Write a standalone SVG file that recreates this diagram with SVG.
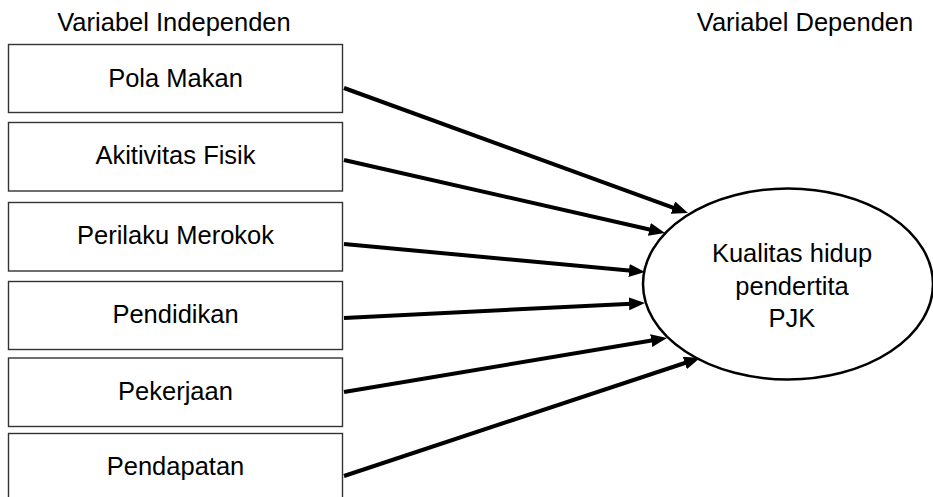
<svg xmlns="http://www.w3.org/2000/svg" width="933" height="497" viewBox="0 0 933 497">
<style>
text{font-family:"Liberation Sans",Arial,sans-serif;font-size:25.5px;fill:#000;text-anchor:middle}
.box{fill:#fff;stroke:#333;stroke-width:1.4}
.conn{stroke:#000;stroke-width:4;fill:none;marker-end:url(#ah)}
</style>
<defs>
<marker id="ah" markerUnits="userSpaceOnUse" markerWidth="16" markerHeight="13" refX="8" refY="6.5" orient="auto">
<path d="M0,0 L16,6.5 L0,13 z" fill="#000"/>
</marker>
</defs>
<rect width="933" height="497" fill="#fff"/>
<g id="headers">
<text x="174" y="31">Variabel Independen</text>
<text x="805" y="31">Variabel Dependen</text>
</g>
<g id="n1"><rect class="box" x="8.5" y="44.5" width="334" height="68"/><text x="175.5" y="87">Pola Makan</text></g>
<g id="n2"><rect class="box" x="8.5" y="122.5" width="334" height="68.5"/><text x="175.5" y="163.5">Akitivitas Fisik</text></g>
<g id="n3"><rect class="box" x="8.5" y="202.5" width="334" height="68.5"/><text x="175.5" y="243.5">Perilaku Merokok</text></g>
<g id="n4"><rect class="box" x="8.5" y="281.5" width="334" height="68"/><text x="175.5" y="322.5">Pendidikan</text></g>
<g id="n5"><rect class="box" x="8.5" y="358" width="334" height="68.5"/><text x="175.5" y="399.5">Pekerjaan</text></g>
<g id="n6"><rect class="box" x="8.5" y="433.5" width="334" height="80"/><text x="175.5" y="475">Pendapatan</text></g>
<g id="target">
<ellipse cx="788" cy="284" rx="145" ry="95.5" fill="#fff" stroke="#000" stroke-width="2.5"/>
<text x="792" y="262">Kualitas hidup</text>
<text x="792" y="295">pendertita</text>
<text x="792" y="327">PJK</text>
</g>
<g id="connectors">
<line class="conn" x1="344" y1="88" x2="680.5" y2="210.3"/>
<line class="conn" x1="344" y1="160" x2="657.2" y2="231.2"/>
<line class="conn" x1="344" y1="244" x2="637" y2="271.3"/>
<line class="conn" x1="344" y1="318" x2="637" y2="303.4"/>
<line class="conn" x1="344" y1="392" x2="659.1" y2="339.3"/>
<line class="conn" x1="344" y1="476" x2="692.4" y2="360.5"/>
</g>
</svg>
